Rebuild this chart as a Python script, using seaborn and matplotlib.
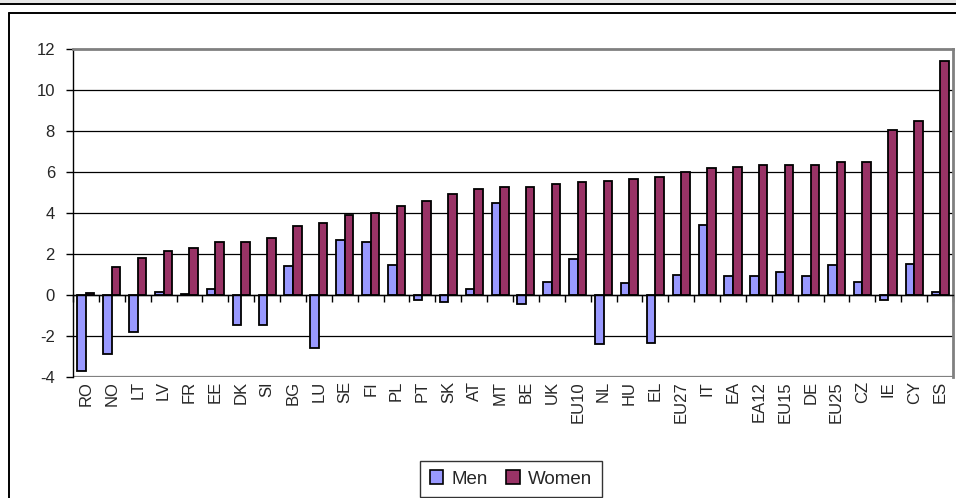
import matplotlib
matplotlib.use("Agg")
import matplotlib.pyplot as plt
import seaborn as sns
import pandas as pd
from matplotlib.lines import Line2D
from matplotlib.patches import Rectangle
from matplotlib.ticker import MultipleLocator, FixedLocator

countries = ["RO", "NO", "LT", "LV", "FR", "EE", "DK", "SI", "BG", "LU", "SE", "FI",
             "PL", "PT", "SK", "AT", "MT", "BE", "UK", "EU10", "NL", "HU", "EL", "EU27",
             "IT", "EA", "EA12", "EU15", "DE", "EU25", "CZ", "IE", "CY", "ES"]
men = [-3.7, -2.9, -1.8, 0.15, 0.05, 0.3, -1.45, -1.45, 1.4, -2.6, 2.7, 2.6,
       1.45, -0.25, -0.35, 0.3, 4.5, -0.45, 0.65, 1.75, -2.4, 0.6, -2.35, 1.0,
       3.4, 0.95, 0.95, 1.1, 0.95, 1.45, 0.65, -0.25, 1.5, 0.15]
women = [0.1, 1.35, 1.8, 2.15, 2.3, 2.6, 2.6, 2.8, 3.35, 3.5, 3.9, 4.0,
         4.35, 4.6, 4.95, 5.15, 5.25, 5.25, 5.4, 5.5, 5.55, 5.65, 5.75, 6.0,
         6.2, 6.25, 6.35, 6.35, 6.35, 6.5, 6.5, 8.05, 8.5, 11.4]
series = ["Men", "Women"]
colors = ["#9999FF", "#993366"]

df = pd.DataFrame({
    "country": countries * 2,
    "value": men + women,
    "sex": [series[0]] * len(countries) + [series[1]] * len(countries),
})

sns.set_theme(style="white")
plt.rcParams["font.family"] = ["Liberation Sans", "DejaVu Sans"]
plt.rcParams["axes.unicode_minus"] = False

fig = plt.figure(figsize=(9.56, 4.98), dpi=100)
W, H = 956, 498
ax = fig.add_axes([73 / W, 1 - 377 / H, (953 - 73) / W, (377 - 49) / H])

sns.barplot(data=df, x="country", y="value", hue="sex", order=countries,
            hue_order=series, palette=colors, width=0.66, edgecolor="black",
            linewidth=1.3, saturation=1, ax=ax, legend=False, errorbar=None)

ax.set_ylim(-4, 12)
ax.set_xlim(-0.5, len(countries) - 0.5)
ax.yaxis.set_major_locator(MultipleLocator(2))
ax.set_xlabel("")
ax.set_ylabel("")

# gridlines
for yv in range(-2, 12, 2):
    ax.axhline(yv, color="black", lw=0.9, zorder=0.5)
ax.axhline(-4, color="#808080", lw=1.6, zorder=0.5)

# spines
ax.spines["left"].set_color("black")
ax.spines["left"].set_linewidth(1.0)
ax.spines["top"].set_color("#808080")
ax.spines["top"].set_linewidth(2)
ax.spines["right"].set_color("#808080")
ax.spines["right"].set_linewidth(2)
ax.spines["bottom"].set_position(("data", 0))
ax.spines["bottom"].set_color("black")
ax.spines["bottom"].set_linewidth(1.0)

ax.tick_params(axis="y", which="major", direction="out", length=5, width=1,
               color="black", labelsize=12, pad=8, left=True)
ax.set_xticks(range(len(countries)))
ax.set_xticklabels(countries, rotation=90, fontsize=12)
ax.xaxis.set_minor_locator(FixedLocator([i + 0.5 for i in range(-1, len(countries))]))
ax.tick_params(axis="x", which="major", length=0, pad=62, bottom=True)
ax.tick_params(axis="x", which="minor", direction="out", length=5, width=1,
               color="black", bottom=True)
for lbl in ax.get_xticklabels():
    lbl.set_verticalalignment("top")

# legend
handles = [Rectangle((0, 0), 1, 1, facecolor=c, edgecolor="black", lw=1.2) for c in colors]
leg = fig.legend(handles, series, loc="center", bbox_to_anchor=(511 / W, 1 - 479 / H),
                 ncol=2, frameon=True, fontsize=13.5, handlelength=0.7, handleheight=0.7,
                 handletextpad=0.45, columnspacing=1.0, borderpad=0.5, fancybox=False)
leg.get_frame().set_edgecolor("black")
leg.get_frame().set_linewidth(1.0)

# page decorations: grey band, rule lines, chart border
fig.add_artist(Rectangle((0, 1 - 4 / H), 1, 4 / H, transform=fig.transFigure,
                         facecolor="#e6e6e6", edgecolor="none"))
fig.add_artist(Line2D([0, 1], [1 - 4.5 / H, 1 - 4.5 / H], transform=fig.transFigure,
                      color="black", lw=1.4))
fig.add_artist(Line2D([9 / W, 1], [1 - 13.5 / H, 1 - 13.5 / H], transform=fig.transFigure,
                      color="black", lw=1.4))
fig.add_artist(Line2D([9 / W, 9 / W], [0, 1 - 13.5 / H], transform=fig.transFigure,
                      color="black", lw=1.4))

fig.savefig("out.png", dpi=100)
